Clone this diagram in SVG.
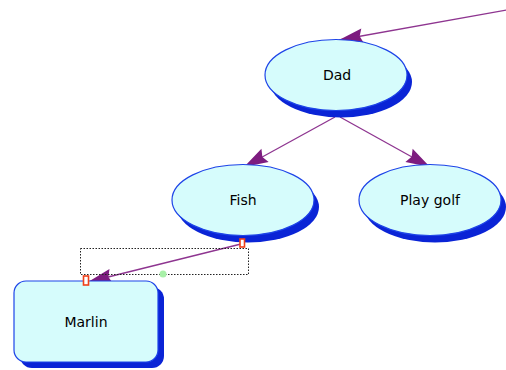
<svg xmlns="http://www.w3.org/2000/svg" width="506" height="370" viewBox="0 0 506 370">
  <style>
    .shadow { fill: #0a24d6; }
    .body { fill: #d6fcfc; stroke: #1d44e8; stroke-width: 1.2; }
    .label { font-family: "DejaVu Sans", "Liberation Sans", sans-serif; font-size: 14px; fill: #000; text-anchor: middle; }
    .link { fill: none; stroke: #8e3590; stroke-width: 1.3; marker-end: url(#head); }
    .handle { fill: #ffffff; stroke: #f0401a; stroke-width: 1.6; }
  </style>
  <defs>
    <marker id="head" markerUnits="userSpaceOnUse" markerWidth="30" markerHeight="20" viewBox="-26 -10 30 20" refX="0" refY="0" orient="auto">
      <path d="M0,0 L-24,-7.5 L-21,0 L-24,7.5 Z" fill="#7d1c7f"/>
    </marker>
  </defs>
  <rect width="506" height="370" fill="#ffffff"/>

  <!-- connectors, drawn under the nodes -->
  <g id="connectors">
    <path class="link" d="M507,10 L339,40"/>
    <path class="link" d="M335,117 L244,167"/>
    <path class="link" d="M340,117 L430,167"/>
    <path class="link" d="M241,244 L88,282"/>
  </g>

  <g id="node-dad">
    <ellipse class="shadow" cx="341" cy="82" rx="71" ry="35.5"/>
    <ellipse class="body" cx="336" cy="75" rx="71" ry="35.5"/>
    <text class="label" x="337" y="80">Dad</text>
  </g>

  <g id="node-fish">
    <ellipse class="shadow" cx="248" cy="207" rx="71" ry="35.5"/>
    <ellipse class="body" cx="243" cy="200" rx="71" ry="35.5"/>
    <text class="label" x="243" y="205">Fish</text>
  </g>

  <g id="node-play-golf">
    <ellipse class="shadow" cx="435" cy="207" rx="71" ry="35.5"/>
    <ellipse class="body" cx="430" cy="200" rx="71" ry="35.5"/>
    <text class="label" x="430" y="205">Play golf</text>
  </g>

  <g id="node-marlin">
    <rect class="shadow" x="20" y="287" width="144" height="81" rx="12"/>
    <rect class="body" x="14" y="281" width="144" height="81" rx="12"/>
    <text class="label" x="86" y="327">Marlin</text>
  </g>

  <!-- selection frame around the Fish → Marlin link -->
  <g id="selection">
    <rect x="80.5" y="248.5" width="168" height="26" fill="none" stroke="#222" stroke-width="1" stroke-dasharray="1.5,1.5"/>
    <rect class="handle" x="240" y="239" width="4.5" height="8"/>
    <rect class="handle" x="83.5" y="276" width="5" height="9"/>
    <circle cx="163" cy="274" r="3.5" fill="#a8f0a8"/>
  </g>
</svg>
